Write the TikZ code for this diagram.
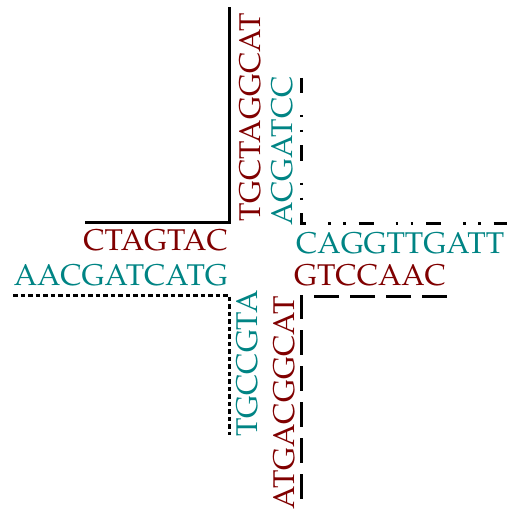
\documentclass[tikz,border=0pt]{standalone}
\usepackage[T1]{fontenc}
\usepackage{mathpazo}
\usepackage{tikz}
\usetikzlibrary{positioning}
\definecolor{strandred}{RGB}{128,0,0}
\definecolor{strandteal}{RGB}{0,132,132}

\begin{document}
\begin{tikzpicture}[
    x=1pt, y=-1pt,
    every node/.style={font=\fontsize{30}{36}\selectfont, inner sep=0pt},
    seqred/.style={text=strandred},
    seqteal/.style={text=strandteal},
    up/.style={rotate=90, anchor=base west},
    strand/.style={line width=3pt},
    solidstrand/.style={strand},
    dotstrand/.style={strand, dash pattern=on 4.5pt off 3pt},
    dashstrand/.style={strand, dash pattern=on 25pt off 11pt},
    dashdotstrand/.style={strand, dash pattern=on 15pt off 22pt on 2.5pt off 12.5pt on 2.5pt off 13pt},
]
\useasboundingbox (0,0) rectangle (509,513);

% Top arm
\node[seqred,  up] (topred)  at (260,222) {TGCTAGGCAT};
\node[seqteal, up] (topteal) at (292,226) {ACGATCC};

% Left arm
\node[seqred,  anchor=base east] (leftred)  at (228,250) {CTAGTAC};
\node[seqteal, anchor=base east] (leftteal) at (228,285) {AACGATCATG};

% Right arm
\node[seqteal, anchor=base west] (rightteal) at (296,253) {CAGGTTGATT};
\node[seqred,  anchor=base west] (rightred)  at (294,285) {GTCCAAC};

% Bottom arm
\node[seqteal, up] (botteal) at (257,437) {TGCCGTA};
\node[seqred,  up] (botred)  at (294,510) {ATGACGGCAT};

% Strand backbones
\coordinate (solidend)   at (85,222);
\coordinate (solidcorn)  at (229,222);
\coordinate (solidtop)   at (229,7);
\coordinate (dotend)     at (13,295);
\coordinate (dotcorn)    at (229,295);
\coordinate (dotbot)     at (229,435);
\coordinate (ddtop)      at (301,78);
\coordinate (ddcorn)     at (301,223);
\coordinate (ddend)      at (507,223);
\coordinate (dashend)    at (447,296);
\coordinate (dashcorn)   at (301,296);
\coordinate (dashbot)    at (301,500);

\draw[solidstrand]   (solidend) -- (solidcorn) -- (solidtop);
\draw[dotstrand]     (dotend) -- (dotcorn) -- (dotbot);
\draw[dashdotstrand] (ddtop) -- (ddcorn) -- (ddend);
\draw[dashstrand]    (dashend) -- (dashcorn) -- (dashbot);

\end{tikzpicture}
\end{document}
